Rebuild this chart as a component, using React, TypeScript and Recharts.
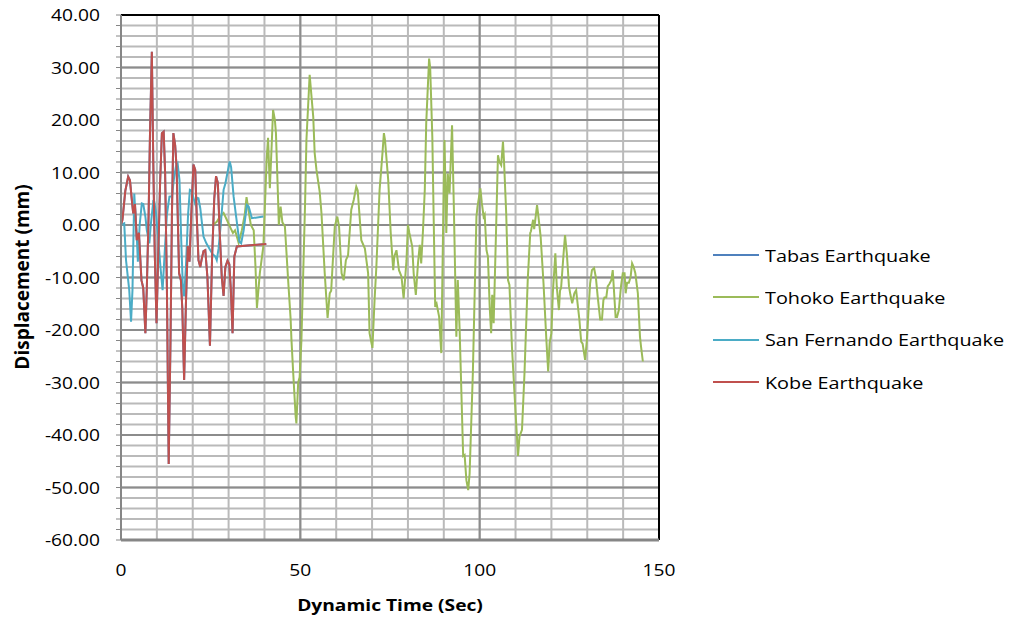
import {
  LineChart,
  Line,
  XAxis,
  YAxis,
  CartesianGrid,
  ReferenceLine,
  Legend,
} from "recharts";

// time (s) / displacement (mm)
const kobeTime = [
  0, 0.4, 1.2, 2.0, 2.5, 3.1, 3.4, 3.9, 4.4, 5.0, 5.7, 6.2, 6.8, 7.2, 7.7,
  8.1, 8.6, 9.0, 9.4, 9.9, 10.3, 10.9, 11.4, 11.9, 12.3, 12.8, 13.3, 13.8,
  14.2, 14.6, 15.1, 15.5, 16.2, 16.7, 17.1, 17.6, 18.1, 18.6, 19.1, 19.6,
  20.2, 20.7, 21.1, 21.6, 22.1, 22.5, 23.0, 23.5, 24.1, 24.8, 25.4, 26.0,
  26.5, 27.0, 27.5, 28.1, 28.6, 29.1, 29.7, 30.2, 30.6, 31.1, 31.6, 32.3,
  40.5,
];
const kobeDisp = [
  0, 1, 6.5, 9.2, 8.5, 4.2, 2.2, 4.0, -2.9, -1.5, -10.5, -12, -20.6, -12, 2,
  18, 33, 12, -5, -18.7, -8, 8, 17.5, 17.8, 10, -12, -45.5, -22,
  2, 17.5, 15.2, 11, -9.2, -10.5, -16, -29.5, -15, -4, -7, 2,
  11.5, 10.5, 2, -6.7, -8, -6.5, -5, -4.8, -10, -23, -6, 5,
  9.3, 8, -1, -10, -13.5, -8, -6.8, -7.5, -12, -20.6, -6, -4.1,
  -3.6,
];

// Tabas sits underneath the Kobe trace in the reference
const tabasTime = kobeTime;
const tabasDisp = [
  0, 1, 6.5, 9.2, 8.5, 4.2, 2.2, 4.0, -2.9, -1.5, -10.5, -12, -20.6, -12, 2,
  18, 33, 12, -5, -18.7, -8, 8, 17.5, 17.8, 10, -12, -45.5, -22,
  2, 17.5, 15.2, 11, -9.2, -10.5, -16, -29.5, -15, -4, -7, 2,
  11.5, 10.5, 2, -6.7, -8, -6.5, -5, -4.8, -10, -23, -6, 5,
  9.3, 8, -1, -10, -13.5, -8, -6.8, -7.5, -12, -20.6, -6, -4.1,
  -3.6,
];

const sanFernandoTime = [
  0, 0.9, 1.4, 2.3, 2.8, 3.2, 3.7, 4.0, 4.4, 4.7, 5.2, 5.8, 6.2, 6.8, 7.2,
  7.9, 8.3, 9.0, 9.3, 9.7, 10.3, 11.0, 11.6, 12.2, 12.8, 13.5, 14.2, 14.8,
  15.3, 15.8, 16.3, 16.8, 17.2, 17.6, 18.1, 18.7, 19.2, 19.8, 20.1, 20.7,
  21.2, 21.6, 22.1, 23.0, 23.8, 24.9, 25.5, 26.3, 26.7, 27.2, 27.8, 28.6,
  29.1, 30.3, 30.7, 31.4, 32.1, 33.0, 33.5, 34.2, 35.1, 35.6, 36.5, 39.7,
];
const sanFernandoDisp = [
  0, 0.3, -6.7, -12.4, -18.4, -12.4, 6, 2.2, -2.2, -7, 0, 4.1, 4.0, 1.6, -1,
  -3.5, 0, 4.5, 4.4, 2.6, -2, -8, -12.4, -5, 2, 5.4, 5.5, 9,
  11.1, 11.7, 8.6, -3, -11.1, -13.6, -8, 2, 6.7, 6.5, 5.4, 4.0,
  5.2, 5.1, 3.2, -2.2, -3.5, -4.8, -5.5, -6, -6.7, -4.5, 0, 6.7,
  7.9, 12.1, 11, 5.4, 1.6, -3.2, -3.5, -1, 3.8, 3.5, 1.3, 1.6,
];

const tohokoTime = [
  25.5, 26.7, 27.5, 28.6, 29.5, 30.5, 31.2, 31.8, 32.8, 33.7, 34.5, 35.0,
  35.5, 36.2, 37.0, 37.5, 37.9, 38.7, 39.7, 40.2, 40.6, 41.0, 41.5, 42.0,
  42.4, 42.9, 43.2, 43.8, 44.0, 44.5, 45.0, 45.7, 46.6, 47.3, 47.5, 48.0,
  48.7, 48.9, 49.4, 49.8, 50.3, 51.3, 51.7, 52.6, 53.6, 54.0, 54.5, 55.4,
  55.9, 56.8, 57.6, 58.2, 58.6, 59.6, 60.3, 60.8, 61.5, 62.1, 62.7, 63.3,
  64.2, 64.9, 65.6, 66.0, 67.0, 68.0, 68.9, 69.3, 70.1, 70.7, 71.2, 72.1,
  72.9, 73.3, 73.6, 74.5, 75.2, 75.9, 76.2, 76.8, 77.5, 78.2, 78.8, 79.6,
  80.0, 80.4, 81.2, 81.6, 82.2, 82.8, 83.3, 83.7, 84.2, 84.7, 85.1, 85.9,
  86.2, 86.8, 87.2, 87.6, 88.0, 88.7, 89.3, 90.0, 90.2, 90.7, 91.1, 91.6,
  92.3, 92.8, 93.5, 93.9, 94.4, 95.4, 95.8, 96.3, 96.8, 97.2, 98.1, 99.1,
  99.4, 100.2, 100.6, 101.1, 101.4, 101.9, 102.3, 102.8, 103.2, 103.5,
  103.9, 104.5, 105.1, 105.5, 106.0, 106.5, 106.8, 107.4, 107.9, 108.3,
  109.0, 109.7, 110.7, 111.1, 111.8, 112.5, 113.4, 114.1, 114.3, 114.9,
  115.2, 116.0, 116.4, 117.0, 117.8, 118.6, 119.1, 119.5, 120.0, 120.4,
  121.1, 121.5, 122.1, 122.4, 122.7, 123.4, 123.8, 124.3, 124.9, 125.3,
  125.8, 126.4, 126.9, 127.4, 127.8, 128.3, 128.7, 129.4, 129.9, 130.4,
  130.8, 131.3, 131.9, 132.4, 132.9, 133.6, 134.1, 134.5, 134.8, 135.3,
  135.7, 136.2, 136.7, 137.1, 137.9, 138.3, 138.8, 139.4, 139.9, 140.4,
  140.7, 141.1, 141.6, 142.1, 142.5, 142.9, 143.4, 144.1, 144.7, 145.0,
  145.5,
];
const tohokoDisp = [
  0, 0.6, 1.5, 2.3, 1, -0.5, -1.5, -1, -3.4, -1, 2, 5.3,
  3, 0, -1, -8, -15.8, -9.2, -4, 5, 12.4, 16.6, 7, 15,
  21.9, 20, 17.5, 4.8, 0, 3.5, 0.5, -0.3, -10.5, -18, -21.5, -28,
  -36.5, -37.8, -30, -29, -22, 3.5, 16.2, 28.6, 20.6, 13.7, 10.5, 6.3,
  2.2, -9.2, -17.7, -13, -12.5, -0.3, 1.6, -0.3, -9.2, -10.5, -6.7, -5.8,
  2.9, 4.8, 7.3, 6.6, -2.9, -4.5, -9.2, -20.6, -23.4, -14.3, -7.9, 6.7,
  13.7, 17.5, 16.2, 8.6, -1.5, -8.6, -6, -4.8, -8.6, -9.8, -14, -6.7,
  0, -1.5, -4.1, -9.2, -13.3, -7.3, -3.8, -7.3, -1, 6.7, 19.4, 31.7,
  30, 16.8, 0.4, -15.6, -15, -17.5, -24.4, 8.6, 16.2, -1.5, 9.8, 6,
  19, 3.5, -21.3, -10.5, -19.6, -44, -43.8, -48.6, -50.5, -47.3, -28.2, 1.6,
  3.5, 7, 4.2, 1.6, 2, -4.8, -6, -15.6, -20.6, -13.3,
  -18.7, -2.9, 13.3, 12, 11.4, 15.9, 12, 2.2, -10.5, -11.4,
  -23.2, -32, -44, -40.3, -39, -28.2, -10.5, -1.5, -1.2, 1,
  -0.8, 3.8, 1.5, -2.2, -11.1, -21.9, -27.9, -22.5, -20.6, -13,
  -5.4, -11.8, -16.2, -12.5, -12, -5.4, -1.9, -5.4, -11.7, -13.3,
  -14.9, -13, -12.4, -15.6, -18, -22.2, -22.6, -25.7, -21.9, -15.6,
  -11.1, -8.6, -8.2, -10, -13.6, -18, -18, -14.3, -13.8, -13.8,
  -11.7, -11.2, -10.5, -8.6, -17.5, -17.5, -16.2, -11.7, -9.2, -9.2,
  -13, -11, -11, -9.8, -7.3, -7.9, -9.2, -13, -21.3, -23.2,
  -26,
];

const seriesNames = [
  "Tabas Earthquake",
  "Tohoko Earthquake",
  "San Fernando Earthquake",
  "Kobe Earthquake",
];
const xTicks = [0, 50, 100, 150];
const yLabelTicks = [40, 30, 20, 10, 0, -10, -20, -30, -40, -50, -60];

const toPoints = (ts: number[], vs: number[]) =>
  ts.map((t, i) => ({ t, v: vs[i] }));

const tabas = toPoints(tabasTime, tabasDisp);
const tohoko = toPoints(tohokoTime, tohokoDisp);
const sanFernando = toPoints(sanFernandoTime, sanFernandoDisp);
const kobe = toPoints(kobeTime, kobeDisp);

const yMinorTicks: number[] = [];
for (let v = -60; v <= 40; v += 2) yMinorTicks.push(v);
const xMinorTicks: number[] = [];
for (let v = 0; v <= 150; v += 10) xMinorTicks.push(v);

const FONT = "'Open Sans', 'Noto Sans', sans-serif";
const STRETCH = 1.2;

const YTick = (props: any) => {
  const { x, y, payload } = props;
  if (!yLabelTicks.includes(payload.value)) return null;
  return (
    <text
      transform={`translate(${x},${y}) scale(${STRETCH},1)`}
      textAnchor="end"
      dominantBaseline="central"
      fontFamily={FONT}
      fontSize={16}
      fill="#000"
    >
      {payload.value.toFixed(2)}
    </text>
  );
};

const XTick = (props: any) => {
  const { x, y, payload } = props;
  return (
    <text
      transform={`translate(${x},${y + 22}) scale(${STRETCH},1)`}
      textAnchor="middle"
      dominantBaseline="central"
      fontFamily={FONT}
      fontSize={16}
      fill="#000"
    >
      {payload.value}
    </text>
  );
};

const renderLegend = (props: any) => {
  const { payload } = props;
  return (
    <div style={{ fontFamily: FONT, fontSize: 16.5, color: "#000" }}>
      {payload.map((entry: any) => (
        <div
          key={entry.value}
          style={{ height: 42.3, display: "flex", alignItems: "center" }}
        >
          <svg width={52} height={4} style={{ flex: "none" }}>
            <line x1={0} y1={2} x2={46} y2={2} stroke={entry.color} strokeWidth={2} />
          </svg>
          <span
            style={{
              display: "inline-block",
              whiteSpace: "nowrap",
              transform: `scaleX(${STRETCH})`,
              transformOrigin: "left center",
            }}
          >
            {entry.value}
          </span>
        </div>
      ))}
    </div>
  );
};

export default function App() {
  return (
    <div
      style={{
        position: "absolute",
        left: 0,
        top: 0,
        width: 1013,
        height: 620,
        background: "#fff",
      }}
    >
      <LineChart
        width={1013}
        height={620}
        margin={{ top: 15, right: 354, bottom: 50, left: 0 }}
      >
        <CartesianGrid
          stroke="#bababa"
          strokeWidth={2}
          horizontalValues={yMinorTicks}
          verticalValues={xMinorTicks}
        />
        <CartesianGrid
          stroke="#8c8c8c"
          strokeWidth={2}
          horizontalValues={yLabelTicks}
          verticalValues={xTicks}
        />
        <XAxis
          dataKey="t"
          type="number"
          domain={[0, 150]}
          ticks={xTicks}
          height={30}
          tick={<XTick />}
          tickLine={false}
          axisLine={{ stroke: "#868686", strokeWidth: 3 }}
          allowDuplicatedCategory={false}
          label={{
            position: "bottom",
            content: () => (
              <text
                transform={`translate(390,605) scale(${STRETCH},1)`}
                textAnchor="middle"
                dominantBaseline="central"
                fontFamily={FONT}
                fontWeight="bold"
                fontSize={16}
                fill="#000"
              >
                Dynamic Time  (Sec)
              </text>
            ),
          }}
        />
        <YAxis
          type="number"
          domain={[-60, 40]}
          ticks={yMinorTicks}
          interval={0}
          width={121}
          tick={<YTick />}
          tickSize={5}
          tickMargin={16}
          tickLine={{ stroke: "#868686" }}
          axisLine={{ stroke: "#868686", strokeWidth: 2 }}
          label={{
            position: "left",
            content: () => (
              <text
                transform="translate(22,277) rotate(-90)"
                textAnchor="middle"
                dominantBaseline="central"
                fontFamily={FONT}
                fontWeight="bold"
                fontSize={19}
                fill="#000"
              >
                Displacement (mm)
              </text>
            ),
          }}
        />
        <ReferenceLine y={40} stroke="#000" strokeWidth={2} />
        <ReferenceLine x={150} stroke="#000" strokeWidth={2} />
        <Legend
          layout="horizontal"
          verticalAlign="middle"
          align="center"
          content={renderLegend}
          itemSorter={(item: any) => seriesNames.indexOf(item.value)}
          wrapperStyle={{ left: 713, top: 234, width: 300 }}
        />
        <Line
          data={tabas}
          dataKey="v"
          name={seriesNames[0]}
          stroke="#4f81bd"
          strokeWidth={2}
          dot={false}
          isAnimationActive={false}
        />
        <Line
          data={tohoko}
          dataKey="v"
          name={seriesNames[1]}
          stroke="#9bbb59"
          strokeWidth={2}
          dot={false}
          isAnimationActive={false}
        />
        <Line
          data={sanFernando}
          dataKey="v"
          name={seriesNames[2]}
          stroke="#4bacc6"
          strokeWidth={2}
          dot={false}
          isAnimationActive={false}
        />
        <Line
          data={kobe}
          dataKey="v"
          name={seriesNames[3]}
          stroke="#c0504d"
          strokeWidth={2}
          dot={false}
          isAnimationActive={false}
        />
      </LineChart>
    </div>
  );
}
